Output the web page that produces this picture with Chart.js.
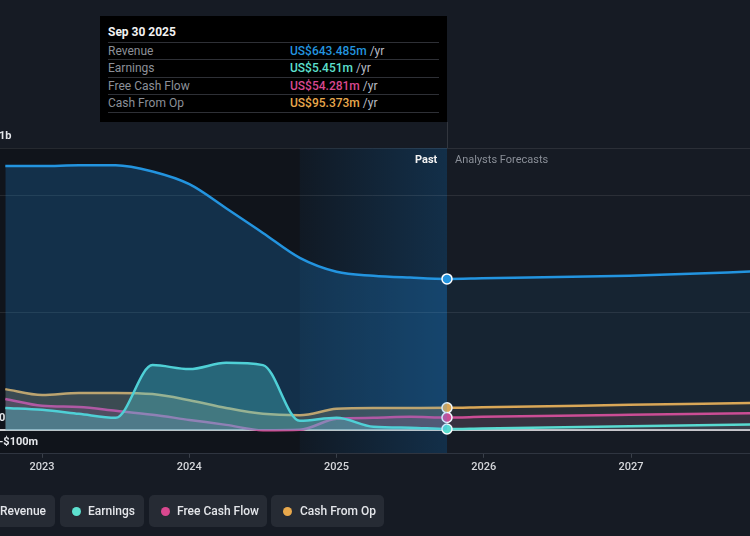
<!DOCTYPE html>
<html>
<head>
<meta charset="utf-8">
<script src="https://cdn.jsdelivr.net/npm/chart.js@4.4.1/dist/chart.umd.min.js"></script>
<style>
  html, body { margin:0; padding:0; background:#161b24; width:750px; height:536px; overflow:hidden; font-family: Roboto, "Noto Sans", sans-serif; }
  #wrap { position:absolute; left:-5px; top:0; width:755px; height:536px; }
  #tip { position:absolute; left:100px; top:16px; width:347px; height:106px; background:#000; color:#fff; font-size:12px; }
  #tip .title { position:absolute; left:8px; top:9px; font-weight:700; color:#f2f2f2; }
  #tip .row { position:absolute; left:8px; width:331px; height:17px; border-top:1px solid #2e3036; line-height:17px; }
  #tip .lab { position:absolute; left:0; color:#8c9098; }
  #tip .val { position:absolute; left:182px; font-weight:500; }
  #tip .yr { color:#b8bcc4; font-weight:400; }
  #tip .last { position:absolute; left:8px; top:96px; width:331px; border-top:1px solid #2e3036; }
  .lbl { position:absolute; font-size:11px; top:153px; }
  #legend { position:absolute; top:495px; left:0; height:32px; }
  .pill { position:absolute; top:0; height:32px; background:#262b34; border-radius:5px; color:#e4e6ea; font-size:12px; font-weight:500; line-height:32px; }
  .dot { position:absolute; top:12px; width:9px; height:9px; border-radius:50%; }
</style>
</head>
<body>
<div id="wrap"><canvas id="c" width="755" height="536"></canvas></div>

<div id="tip">
  <div class="title">Sep 30 2025</div>
  <div class="row" style="top:26px"><span class="lab">Revenue</span><span class="val" style="color:#2394df">US$643.485m <span class="yr">/yr</span></span></div>
  <div class="row" style="top:43px"><span class="lab">Earnings</span><span class="val" style="color:#5de0cf">US$5.451m <span class="yr">/yr</span></span></div>
  <div class="row" style="top:61px"><span class="lab">Free Cash Flow</span><span class="val" style="color:#d9488f">US$54.281m <span class="yr">/yr</span></span></div>
  <div class="row" style="top:78px"><span class="lab">Cash From Op</span><span class="val" style="color:#e8a84c">US$95.373m <span class="yr">/yr</span></span></div>
  <div class="last"></div>
</div>

<div class="lbl" style="left:415px; color:#f2f2f2; font-weight:700;">Past</div>
<div class="lbl" style="left:455px; color:#8a8f98;">Analysts Forecasts</div>

<div id="legend">
  <div class="pill" style="left:-40px; width:95px;"><span class="dot" style="left:16px; background:#2394df"></span><span style="position:absolute; left:40px;">Revenue</span></div>
  <div class="pill" style="left:60px; width:84px;"><span class="dot" style="left:12px; background:#5de0cf"></span><span style="position:absolute; left:28px;">Earnings</span></div>
  <div class="pill" style="left:149px; width:118px;"><span class="dot" style="left:12px; background:#d9488f"></span><span style="position:absolute; left:28px;">Free Cash Flow</span></div>
  <div class="pill" style="left:271px; width:113px;"><span class="dot" style="left:12px; background:#e8a84c"></span><span style="position:absolute; left:29px;">Cash From Op</span></div>
</div>

<script>
// Periods as decimal years (Sep 2022 ... Sep 2025 actuals, then forecasts)
const periods   = [2022.75, 2023.0, 2023.25, 2023.5, 2023.75, 2024.0, 2024.25, 2024.5, 2024.75, 2025.0, 2025.25, 2025.5, 2025.75, 2025.99, 2026.99, 2027.99];
// Values in US$ millions
const revenue   = [1123, 1123, 1127, 1127, 1100, 1046, 944, 839, 733, 674, 657, 649, 643.485, 646, 657, 679];
const earnings  = [95, 87, 70, 53, 277, 260, 287, 277, 40, 53, 15, 11, 5.451, 8, 17, 26];
const freeCash  = [133, 104, 99, 83, 66, 44, 23, 0, 2, 49, 53, 57, 54.281, 57, 66, 74];
const cashFromOp= [175, 150, 159, 159, 154, 128, 95, 70, 64, 91, 95, 95, 95.373, 98, 108, 118];
const lastActual = 2025.75;
const pastStart  = 2024.75;
const yearTicks  = [2023, 2024, 2025, 2026, 2027];
const yTicks     = [-100, 0, 500, 1000, 1200];
const yTickLabels = {"-100": "-$100m", "0": "0", "1200": "1b"};

function series(vals){ return periods.map((p,i)=>({x:p, y:vals[i]})); }
const markerIdx = periods.indexOf(lastActual);
function radii(){ return periods.map((p,i)=> i===markerIdx ? 5 : 0); }

function ds(label, vals, color, pastFill, fcFill){
  return {
    label, data: series(vals), borderColor: color, borderWidth: 2.5,
    backgroundColor: pastFill, fill: 'origin',
    cubicInterpolationMode: 'monotone',
    pointRadius: radii(), pointBackgroundColor: color, pointBorderColor: '#ffffff', pointBorderWidth: 1.5,
    pointHoverRadius: 0,
    segment: { backgroundColor: ctx => ctx.p0.parsed.x >= lastActual - 1e-6 ? fcFill : pastFill }
  };
}

const bgPlugin = {
  id: 'bg',
  beforeDraw(chart){
    const {ctx, chartArea: a, scales: {x}} = chart;
    ctx.save();
    const xl = x.getPixelForValue(lastActual);
    const xs = x.getPixelForValue(pastStart);
    ctx.fillStyle = '#10141b';
    ctx.fillRect(a.left, a.top, xl - a.left, a.bottom - a.top);
    const g = ctx.createLinearGradient(xs, 0, xl, 0);
    g.addColorStop(0, 'rgba(25,110,180,0.06)');
    g.addColorStop(1, 'rgba(25,110,180,0.30)');
    ctx.fillStyle = g;
    ctx.fillRect(xs, a.top, xl - xs, a.bottom - a.top);
    ctx.restore();
  },
  afterDraw(chart){
    const {ctx, chartArea: a, scales: {x}} = chart;
    const xl = Math.round(x.getPixelForValue(lastActual)) + 0.5;
    ctx.save();
    ctx.strokeStyle = 'rgba(255,255,255,0.12)';
    ctx.lineWidth = 1;
    ctx.beginPath(); ctx.moveTo(xl, 122); ctx.lineTo(xl, a.top); ctx.stroke();
    ctx.restore();
  }
};

new Chart(document.getElementById('c'), {
  type: 'line',
  data: {
    datasets: [
      ds('Revenue', revenue, '#2394df', 'rgba(33,150,243,0.22)', 'rgba(33,150,243,0.07)'),
      ds('Earnings', earnings, '#5de0cf', 'rgba(93,224,207,0.34)', 'rgba(93,224,207,0.10)'),
      ds('Free Cash Flow', freeCash, '#d9488f', 'rgba(217,72,143,0.18)', 'rgba(217,72,143,0.10)'),
      ds('Cash From Op', cashFromOp, '#e8a84c', 'rgba(232,168,76,0.24)', 'rgba(232,168,76,0.09)')
    ]
  },
  options: {
    responsive: false, animation: false,
    layout: { padding: { top: 148, bottom: 59, left: 0, right: 0 } },
    plugins: { legend: { display: false }, tooltip: { enabled: false } },
    events: [],
    scales: {
      x: {
        type: 'linear', min: 2022.68, max: 2027.808,
        afterBuildTicks: s => { s.ticks = yearTicks.map(v => ({value: v})); },
        ticks: { callback: v => String(v), color: '#d4d6da', font: { family: 'Roboto', size: 11, weight: '500' }, padding: 3, maxRotation: 0 },
        grid: { drawOnChartArea: false, drawTicks: true, tickLength: 4, color: '#3a404a' },
        border: { display: true, color: '#2f3540', width: 1 }
      },
      y: {
        type: 'linear', min: -100, max: 1200,
        afterBuildTicks: s => { s.ticks = yTicks.map(v => ({value: v})); },
        afterFit: s => { s.width = 0; },
        ticks: {
          mirror: true, padding: 4, labelOffset: -12,
          color: '#e4e6ea', font: { family: 'Roboto', size: 11, weight: '700' },
          callback: v => yTickLabels[String(v)] || ''
        },
        grid: {
          drawTicks: false,
          color: c => c.tick && c.tick.value === 0 ? 'rgba(225,225,228,0.9)' : 'rgba(255,255,255,0.09)',
          lineWidth: c => c.tick && c.tick.value === 0 ? 2 : 1
        },
        border: { display: false }
      }
    }
  },
  plugins: [bgPlugin]
});
</script>
</body>
</html>
